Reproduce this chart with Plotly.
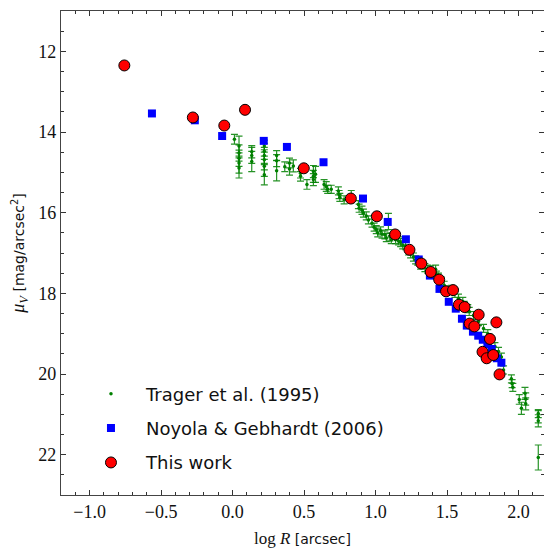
import plotly.graph_objects as go

# ---------------- data ----------------
# Trager et al. (1995)
trager_logr = [0.013, 0.045, 0.045, 0.045, 0.045, 0.045, 0.134, 0.134, 0.134,
               0.222, 0.222, 0.222, 0.222, 0.222, 0.222, 0.308, 0.308, 0.308,
               0.365, 0.398, 0.398, 0.425, 0.475, 0.475, 0.52, 0.565, 0.565,
               0.565, 0.58, 0.64, 0.655, 0.665, 0.69, 0.74, 0.745, 0.75, 0.78,
               0.83, 0.88, 0.885, 0.905, 0.915, 0.935, 0.95, 0.975, 0.99, 1.005,
               1.015, 1.035, 1.045, 1.065, 1.075, 1.09, 1.10, 1.11, 1.14, 1.16,
               1.175, 1.19, 1.21, 1.23, 1.245, 1.265, 1.28, 1.295, 1.315, 1.33,
               1.345, 1.365, 1.385, 1.40, 1.42, 1.425, 1.44, 1.46, 1.48, 1.50,
               1.53, 1.555, 1.58, 1.61, 1.62, 1.645, 1.655, 1.685, 1.72, 1.755,
               1.785, 1.795, 1.81, 1.835, 1.86, 1.88, 1.895, 1.95, 1.955, 1.96,
               2.005, 2.02, 2.045, 2.05, 2.05, 2.138, 2.138, 2.138, 2.138]
trager_mu = [14.18, 14.35, 14.52, 14.65, 14.77, 14.89, 14.49, 14.58, 14.73,
             14.35, 14.48, 14.58, 14.69, 14.85, 15.06, 14.58, 14.71, 14.96,
             14.86, 14.77, 14.92, 14.84, 15.02, 15.10, 15.30, 14.98, 15.10,
             15.18, 15.05, 15.30, 15.35, 15.42, 15.42, 15.46, 15.55, 15.62, 15.68,
             15.60, 15.80, 15.89, 15.94, 16.01, 16.08, 16.18, 16.26, 16.36, 16.42,
             16.50, 16.45, 16.53, 16.55, 16.62, 16.22, 16.60, 16.67, 16.67, 16.70,
             16.74, 16.80, 16.82, 16.95, 17.02, 17.10, 17.17, 17.20, 17.30, 17.28,
             17.36, 17.40, 17.44, 17.50, 17.40, 17.55, 17.60, 17.70, 17.80, 17.92,
             17.90, 18.00, 18.12, 18.20, 18.30, 18.38, 18.45, 18.55, 18.70, 18.87,
             19.00, 19.12, 19.20, 19.32, 19.44, 19.58, 19.90, 20.12, 20.24, 20.33,
             20.63, 20.85, 20.48, 20.62, 20.74, 20.98, 21.06, 21.16, 22.07]
trager_err = [0.12, 0.25, 0.2, 0.2, 0.25, 0.25, 0.15, 0.2, 0.25,
              0.15, 0.2, 0.2, 0.25, 0.25, 0.25, 0.12, 0.15, 0.25,
              0.12, 0.12, 0.15, 0.15, 0.12, 0.12, 0.12, 0.15, 0.15,
              0.15, 0.2, 0.12, 0.12, 0.1, 0.1, 0.1, 0.1, 0.1, 0.1,
              0.15, 0.1, 0.1, 0.1, 0.1, 0.1, 0.1, 0.1, 0.1, 0.1,
              0.1, 0.1, 0.1, 0.1, 0.1, 0.2, 0.1, 0.1, 0.1, 0.1,
              0.1, 0.1, 0.1, 0.1, 0.1, 0.1, 0.1, 0.1, 0.1, 0.1,
              0.1, 0.1, 0.12, 0.1, 0.1, 0.1, 0.1, 0.1, 0.1, 0.1,
              0.1, 0.1, 0.1, 0.1, 0.1, 0.1, 0.1, 0.1, 0.1, 0.1,
              0.1, 0.1, 0.1, 0.1, 0.1, 0.1, 0.1, 0.1, 0.1, 0.1,
              0.12, 0.15, 0.15, 0.15, 0.15, 0.1, 0.15, 0.15, 0.31]

# Noyola & Gebhardt (2006)
noyola_logr = [-0.564, -0.264, -0.073, 0.218, 0.380, 0.636, 0.912, 1.085, 1.212,
               1.302, 1.380, 1.447, 1.512, 1.561, 1.604, 1.638, 1.681, 1.718,
               1.750, 1.782, 1.812, 1.848, 1.880]
noyola_mu = [13.54, 13.71, 14.10, 14.22, 14.37, 14.75, 15.65, 16.23, 16.66,
             17.16, 17.56, 17.89, 18.21, 18.38, 18.63, 18.80, 18.95, 19.05,
             19.15, 19.26, 19.38, 19.61, 19.72]
noyola_err = [0.05] * len(noyola_logr)

# This work
this_logr = [-0.757, -0.278, -0.058, 0.087, 0.498, 0.827, 1.009, 1.137, 1.237,
             1.320, 1.386, 1.445, 1.493, 1.542, 1.583, 1.623, 1.721, 1.658,
             1.691, 1.845, 1.800, 1.748, 1.777, 1.823, 1.867]
this_mu = [12.35, 13.64, 13.84, 13.45, 14.90, 15.65, 16.09, 16.54, 16.92,
           17.26, 17.47, 17.66, 17.95, 17.92, 18.28, 18.34, 18.53, 18.75,
           18.82, 18.72, 19.13, 19.45, 19.61, 19.53, 20.01]
this_err = [0.05] * len(this_logr)

legend_labels = ["Trager et al. (1995)", "Noyola & Gebhardt (2006)", "This work"]
x_ticks = [-1.0, -0.5, 0.0, 0.5, 1.0, 1.5, 2.0]
x_ticktext = ["−1.0", "−0.5", "0.0", "0.5", "1.0", "1.5", "2.0"]
y_ticks = [12, 14, 16, 18, 20, 22]

# ---------------- figure ----------------
green = "rgb(0,128,0)"
fig = go.Figure()

fig.add_trace(go.Scatter(
    x=trager_logr, y=trager_mu, mode="markers", name=legend_labels[0],
    legendgroup="a",
    marker=dict(color=green, size=3.5, symbol="circle"),
    error_y=dict(type="data", array=trager_err, color="rgba(0,128,0,0.85)",
                 thickness=1.2, width=3.5),
))
fig.add_trace(go.Scatter(
    x=noyola_logr, y=noyola_mu, mode="markers", name=legend_labels[1],
    legendgroup="b",
    marker=dict(color="rgb(0,0,255)", size=8, symbol="square"),
    error_y=dict(type="data", array=noyola_err, color="rgb(0,0,255)",
                 thickness=1.2, width=3),
))
fig.add_trace(go.Scatter(
    x=this_logr, y=this_mu, mode="markers", name=legend_labels[2],
    legendgroup="c",
    marker=dict(color="rgb(255,0,0)", size=11, symbol="circle",
                line=dict(color="black", width=1)),
    error_y=dict(type="data", array=this_err, color="rgb(255,60,60)",
                 thickness=1.2, width=3),
))

axis_common = dict(
    showgrid=False, zeroline=False, showline=True, linecolor="#444",
    linewidth=1.3, mirror="allticks", ticks="inside", tickcolor="#333",
    ticklen=5, tickwidth=1,
    tickfont=dict(family="Liberation Serif", size=18, color="#111"),
)

fig.update_layout(
    width=544, height=548,
    margin=dict(l=61, r=0, t=11, b=53),
    paper_bgcolor="white", plot_bgcolor="white",
    showlegend=True,
    legend=dict(
        x=0.031, y=0.247, xanchor="left", yanchor="top",
        bgcolor="rgba(0,0,0,0)",
        font=dict(family="DejaVu Sans", size=18, color="#111"),
        itemwidth=60, tracegroupgap=8, traceorder="grouped",
    ),
    xaxis=dict(
        axis_common, range=[-1.2, 2.178], tickvals=x_ticks,
        ticktext=x_ticktext,
        minor=dict(dtick=0.1, ticks="inside", ticklen=3, tickcolor="#333"),
        title=dict(
            text='<span style="font-family:Liberation Serif;font-size:17px">log <i>R</i></span>'
                 '<span style="font-family:DejaVu Sans;font-size:14px"> [arcsec]</span>',
            standoff=15,
        ),
    ),
    yaxis=dict(
        axis_common, range=[23, 11], tickvals=y_ticks,
        minor=dict(dtick=0.5, ticks="inside", ticklen=3, tickcolor="#333"),
        title=dict(
            text='<span style="font-family:Liberation Serif;font-size:18px"><i>μ</i><sub><i>V</i></sub></span>'
                 '<span style="font-family:DejaVu Sans;font-size:14px"> [mag/arcsec<sup>2</sup>]</span>',
            standoff=10,
        ),
    ),
    font=dict(color="#111"),
)

fig.write_html("out.html", config={"displayModeBar": False},
               post_script="document.body.style.margin='0';")
